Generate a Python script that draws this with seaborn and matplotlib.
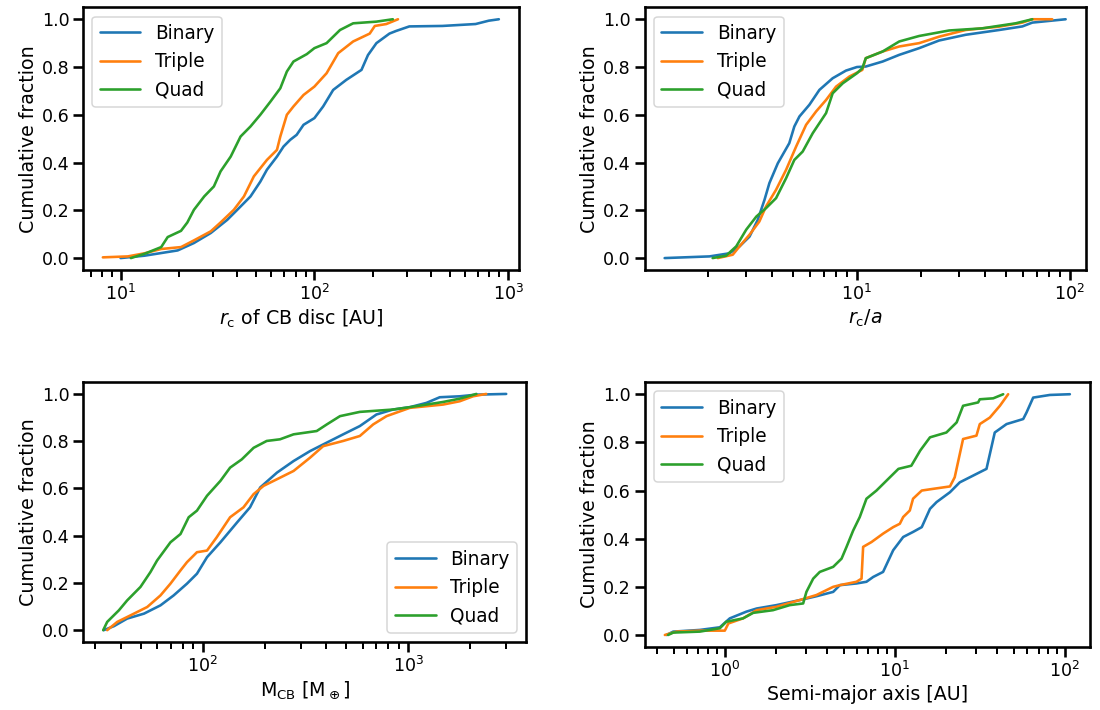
import matplotlib
matplotlib.use("Agg")
import matplotlib.pyplot as plt
import seaborn as sns
import pandas as pd

sns.set_context("talk")
sns.set_style("ticks")
plt.rcParams['font.family'] = ['DejaVu Sans']
plt.rcParams.update({
    "text.color": "black", "axes.labelcolor": "black", "axes.edgecolor": "black",
    "xtick.color": "black", "ytick.color": "black",
    "axes.linewidth": 2.6,
    "xtick.major.width": 2.6, "ytick.major.width": 2.6,
    "xtick.minor.width": 2.0, "ytick.minor.width": 2.0,
    "xtick.major.size": 10, "ytick.major.size": 10,
    "xtick.minor.size": 6.5, "ytick.minor.size": 6.5,
    "xtick.labelsize": 17.5, "ytick.labelsize": 17.5,
    "axes.labelsize": 19,
})

labels = ["Binary", "Triple", "Quad"]
colors = ["#1f77b4", "#ff7f0e", "#2ca02c"]

# Panel 1: r_c of CB disc [AU]
rc_bin_x = [10, 13.3, 19.7, 23.9, 29.2, 35.5, 41.6, 46.8, 52.6, 56.9, 64.1, 69.3, 75, 81, 87.9, 100, 111, 125, 146, 175, 189, 209, 244, 264, 309, 458, 679, 794, 895]
rc_bin_y = [0, 0.01, 0.032, 0.063, 0.105, 0.16, 0.216, 0.258, 0.32, 0.37, 0.425, 0.467, 0.495, 0.516, 0.558, 0.586, 0.635, 0.704, 0.746, 0.788, 0.85, 0.90, 0.94, 0.951, 0.97, 0.972, 0.98, 0.994, 1.0]
rc_tri_x = [8.1, 10.9, 13.3, 16.2, 20.5, 23.9, 29.2, 32.8, 38.4, 43.3, 48.7, 56.9, 64.1, 66.7, 72.1, 78, 87.9, 100, 115.6, 132.7, 158.5, 193, 205, 235, 270]
rc_tri_y = [0.003, 0.007, 0.02, 0.038, 0.046, 0.074, 0.112, 0.149, 0.202, 0.258, 0.342, 0.411, 0.453, 0.509, 0.6, 0.635, 0.683, 0.718, 0.774, 0.858, 0.907, 0.94, 0.972, 0.98, 1.0]
rc_quad_x = [11.3, 13.3, 16.2, 17.5, 20.5, 22.1, 23.9, 27, 30.3, 32.8, 37, 41.6, 46.8, 52.6, 59.3, 66.7, 72.1, 78, 91.4, 100, 115.6, 135.6, 158.5, 209, 254]
rc_quad_y = [0, 0.018, 0.046, 0.088, 0.114, 0.149, 0.202, 0.258, 0.3, 0.363, 0.425, 0.509, 0.551, 0.6, 0.655, 0.711, 0.781, 0.823, 0.854, 0.879, 0.9, 0.955, 0.983, 0.99, 1.0]

# Panel 2: r_c / a
ra_bin_x = [1.25, 2.03, 2.52, 2.81, 3.13, 3.42, 3.68, 3.88, 4.25, 4.81, 5.08, 5.37, 5.98, 6.66, 7.69, 8.88, 10, 11.0, 13.2, 15.8, 19.6, 24.3, 32.4, 46.5, 59.8, 66.6, 95.5]
ra_bin_y = [0, 0.007, 0.02, 0.049, 0.09, 0.16, 0.244, 0.314, 0.397, 0.481, 0.551, 0.593, 0.642, 0.704, 0.753, 0.785, 0.8, 0.802, 0.823, 0.851, 0.879, 0.911, 0.935, 0.955, 0.97, 0.986, 1.0]
ra_tri_x = [2.22, 2.61, 2.81, 3.13, 3.48, 3.74, 4.17, 4.65, 5.18, 5.77, 6.43, 7.16, 7.98, 9.21, 10.6, 11.0, 13.2, 15.8, 19.6, 24.3, 32.4, 46.5, 59.8, 66.6, 82.6]
ra_tri_y = [0, 0.014, 0.049, 0.098, 0.153, 0.216, 0.286, 0.37, 0.467, 0.558, 0.614, 0.662, 0.718, 0.76, 0.788, 0.837, 0.865, 0.886, 0.9, 0.927, 0.955, 0.969, 0.986, 1.0, 1.0]
ra_quad_x = [2.10, 2.43, 2.71, 3.02, 3.37, 3.74, 4.17, 4.65, 5.08, 5.56, 6.2, 7.16, 7.69, 8.58, 10, 10.6, 11.0, 13.2, 15.8, 19.6, 27.1, 38.8, 55.6, 66.6]
ra_quad_y = [0, 0.01, 0.049, 0.119, 0.174, 0.209, 0.251, 0.335, 0.411, 0.446, 0.523, 0.607, 0.69, 0.732, 0.774, 0.795, 0.837, 0.865, 0.907, 0.93, 0.953, 0.962, 0.983, 1.0]

# Panel 3: M_CB [M_earth]
m_bin_x = [33.0, 37.0, 42.9, 51.8, 62.3, 72.2, 83.9, 93.8, 105, 122, 147, 170, 190.5, 230, 277, 333, 402, 483, 582, 701, 845, 1019, 1227, 1425, 1783, 2148, 3001]
m_bin_y = [0, 0.017, 0.049, 0.07, 0.105, 0.147, 0.197, 0.239, 0.309, 0.372, 0.456, 0.52, 0.604, 0.667, 0.716, 0.758, 0.794, 0.829, 0.864, 0.913, 0.934, 0.944, 0.962, 0.986, 0.99, 0.997, 1.0]
m_tri_x = [34.3, 38.4, 44.6, 53.7, 62.3, 69.7, 78, 83.9, 93.8, 105, 117, 136, 158, 177, 198, 230, 277, 333, 386, 483, 582, 676, 785, 1019, 1479, 1783, 2069, 2399]
m_tri_y = [0, 0.035, 0.063, 0.098, 0.147, 0.197, 0.253, 0.288, 0.33, 0.337, 0.393, 0.478, 0.52, 0.576, 0.611, 0.639, 0.674, 0.73, 0.779, 0.801, 0.822, 0.871, 0.906, 0.941, 0.955, 0.969, 0.99, 1.0]
m_quad_x = [32.8, 34.3, 39.1, 42.9, 49.8, 55.7, 60.0, 69.7, 78, 85.5, 93.8, 105, 122, 136, 155, 177, 205, 238, 277, 359, 402, 466, 582, 845, 1019, 1479, 1783, 2148]
m_quad_y = [0, 0.035, 0.084, 0.126, 0.183, 0.246, 0.295, 0.372, 0.407, 0.478, 0.506, 0.569, 0.632, 0.688, 0.723, 0.772, 0.801, 0.808, 0.829, 0.843, 0.871, 0.906, 0.924, 0.934, 0.944, 0.966, 0.98, 1.0]

# Panel 4: semi-major axis [AU]
a_bin_x = [0.454, 0.497, 0.713, 0.935, 1.07, 1.34, 1.54, 2.01, 2.76, 3.46, 4.34, 4.75, 5.95, 6.81, 7.46, 8.53, 9.78, 11.2, 12.8, 14.4, 16.1, 17.6, 21.1, 24.1, 27.6, 31.6, 34.6, 38.7, 45.4, 56.9, 59.5, 65.1, 81.6, 107]
a_bin_y = [0, 0.014, 0.021, 0.032, 0.069, 0.097, 0.11, 0.124, 0.145, 0.161, 0.179, 0.207, 0.214, 0.221, 0.241, 0.262, 0.352, 0.407, 0.428, 0.448, 0.524, 0.552, 0.593, 0.634, 0.655, 0.676, 0.69, 0.841, 0.876, 0.897, 0.924, 0.986, 0.997, 1.0]
a_tri_x = [0.444, 0.52, 0.713, 1.0, 1.05, 1.28, 1.54, 2.01, 2.76, 3.46, 4.34, 4.75, 5.95, 6.37, 6.51, 7.29, 8.53, 9.78, 10.7, 11.2, 12.25, 12.8, 14.4, 16.8, 21.1, 22.5, 25.2, 30.2, 31.6, 36.2, 41.5, 46.4]
a_tri_y = [0, 0.014, 0.018, 0.018, 0.048, 0.069, 0.103, 0.117, 0.145, 0.166, 0.2, 0.207, 0.221, 0.234, 0.366, 0.386, 0.421, 0.448, 0.462, 0.49, 0.517, 0.566, 0.6, 0.607, 0.617, 0.655, 0.814, 0.828, 0.876, 0.903, 0.952, 1.0]
a_quad_x = [0.464, 0.497, 0.713, 0.935, 1.02, 1.28, 1.47, 1.92, 2.41, 2.89, 3.02, 3.31, 3.62, 4.34, 4.86, 5.2, 5.69, 6.22, 6.81, 7.8, 8.93, 10.5, 12.5, 14.1, 16.1, 20.1, 23.1, 25.2, 30.9, 31.6, 37.9, 43.4]
a_quad_y = [0, 0.01, 0.014, 0.028, 0.055, 0.069, 0.092, 0.103, 0.124, 0.131, 0.179, 0.234, 0.262, 0.283, 0.317, 0.366, 0.434, 0.49, 0.566, 0.6, 0.641, 0.69, 0.703, 0.766, 0.821, 0.841, 0.883, 0.952, 0.966, 0.979, 0.983, 1.0]

panels = [
    ([(rc_bin_x, rc_bin_y), (rc_tri_x, rc_tri_y), (rc_quad_x, rc_quad_y)], r"$r_{\rm c}$ of CB disc [AU]", "upper left"),
    ([(ra_bin_x, ra_bin_y), (ra_tri_x, ra_tri_y), (ra_quad_x, ra_quad_y)], r"$r_{\rm c}/a$", "upper left"),
    ([(m_bin_x, m_bin_y), (m_tri_x, m_tri_y), (m_quad_x, m_quad_y)], r"M$_{\rm CB}$ [M$_\oplus$]", "lower right"),
    ([(a_bin_x, a_bin_y), (a_tri_x, a_tri_y), (a_quad_x, a_quad_y)], "Semi-major axis [AU]", "upper left"),
]

positions = [
    [0.0755, 0.6197, 0.396, 0.370],
    [0.586, 0.6197, 0.401, 0.370],
    [0.0755, 0.0958, 0.403, 0.366],
    [0.586, 0.0887, 0.405, 0.373],
]

fig, axes = plt.subplots(2, 2, figsize=(1100 / 72, 710 / 72), dpi=72)
for ax, (series, xlabel, loc), pos in zip(axes.flat, panels, positions):
    for (xs, ys), lab, col in zip(series, labels, colors):
        df = pd.DataFrame({"x": xs, "frac": ys})
        sns.lineplot(data=df, x="x", y="frac", ax=ax, color=col, label=lab,
                     estimator=None, sort=False, linewidth=2.6)
    ax.set_xscale("log")
    ax.set_xlabel(xlabel)
    ax.set_ylabel("Cumulative fraction")
    ax.set_yticks([0.0, 0.2, 0.4, 0.6, 0.8, 1.0])
    ax.legend(loc=loc, fontsize=18.5, handlelength=2.2)
    ax.set_position(pos)

fig.savefig("out.png", dpi=72)
